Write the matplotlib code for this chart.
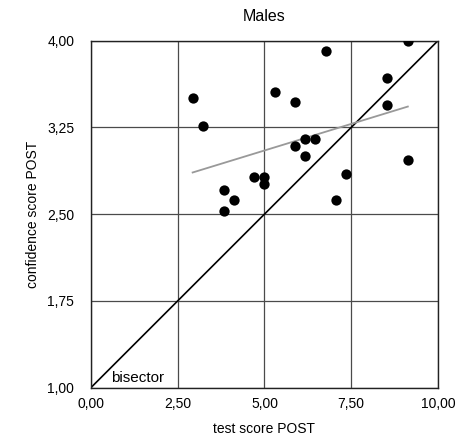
import numpy as np
import matplotlib
matplotlib.use('Agg')
import matplotlib.pyplot as plt
from matplotlib.ticker import FuncFormatter

plt.rcParams['font.family'] = ['Liberation Sans', 'DejaVu Sans']

# test score / confidence score (POST), males
test_post = [9.13, 6.76, 8.54, 2.93, 5.29, 5.88, 8.54, 3.23, 6.18, 6.47, 5.88,
             6.18, 9.13, 4.70, 5.00, 5.00, 7.35, 3.82, 4.12, 7.06, 3.82]
conf_post = [4.00, 3.91, 3.68, 3.50, 3.56, 3.47, 3.44, 3.26, 3.15, 3.15, 3.09,
             3.00, 2.97, 2.82, 2.82, 2.76, 2.85, 2.71, 2.62, 2.62, 2.53]

# trend line end points
fit_x = [2.93, 9.13]
fit_y = [2.86, 3.43]

xticks = [0, 2.5, 5, 7.5, 10]
yticks = [1, 1.75, 2.5, 3.25, 4]

fig = plt.figure(figsize=(4.64, 4.37), dpi=100)
ax = fig.add_axes([0.196, 0.113, 0.748, 0.794])

ax.set_xlim(0, 10)
ax.set_ylim(1, 4)
ax.set_xticks(xticks)
ax.set_yticks(yticks)
komma = FuncFormatter(lambda v, p: f'{v:.2f}'.replace('.', ','))
ax.xaxis.set_major_formatter(komma)
ax.yaxis.set_major_formatter(komma)
ax.tick_params(axis='both', length=0, labelsize=10)
ax.tick_params(axis='x', pad=7)
ax.tick_params(axis='y', pad=12)
ax.grid(True, color='#4a4a4a', linewidth=0.9)
ax.set_axisbelow(True)
for s in ax.spines.values():
    s.set_color('#222222')
    s.set_linewidth(1.0)

# bisector y = x rescaled to the axes
ax.plot([0, 10], [1, 4], color='black', linewidth=1.2, zorder=2)
ax.text(0.57, 1.085, 'bisector', fontsize=11, va='center', ha='left')

ax.plot(fit_x, fit_y, color='#999999', linewidth=1.3, zorder=3)
ax.scatter(test_post, conf_post, s=55, color='black', zorder=4, linewidths=0)

ax.set_title('Males', fontsize=11.5, pad=14)
ax.set_xlabel('test score POST', fontsize=10, labelpad=8)
ax.set_ylabel('confidence score POST', fontsize=10, labelpad=5)

fig.savefig('out.png', dpi=100)
